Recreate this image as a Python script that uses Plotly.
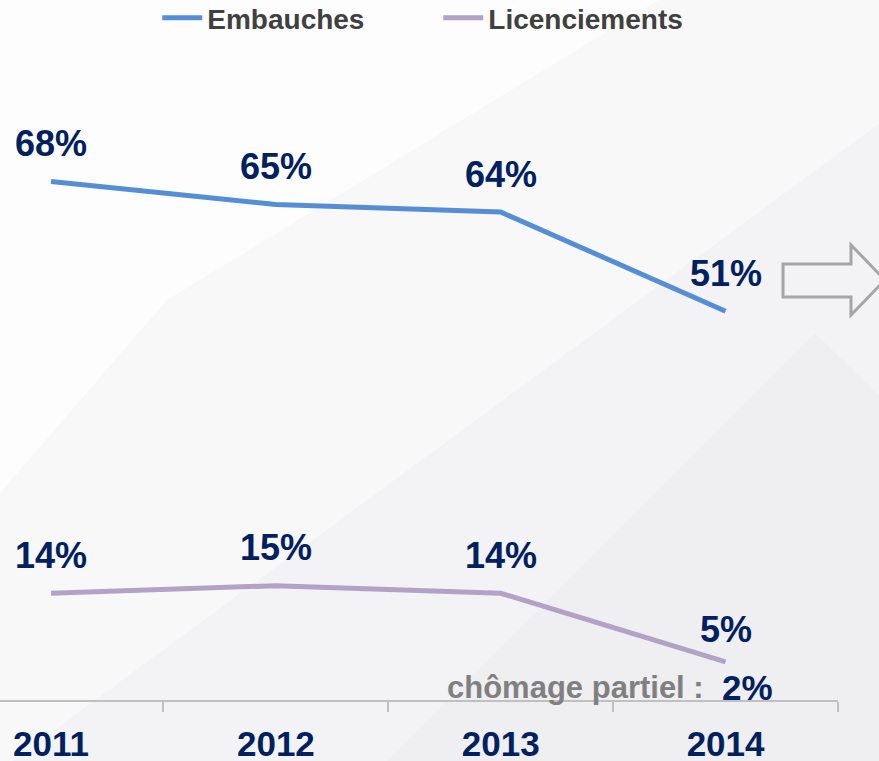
import plotly.graph_objects as go

# Data
years = ['2011', '2012', '2013', '2014']
embauches = [68, 65, 64, 51]
licenciements = [14, 15, 14, 5]
chomage_partiel = 2

NAVY = '#002060'
FONT = 'Liberation Sans, Arial, sans-serif'

# plot area in pixels: x 0..838, y 55..700
PL, PR, PT, PB = 0, 838, 55, 700


def pp(x, y):
    # pixel -> paper coords
    return (x - PL) / (PR - PL), (PB - y) / (PB - PT)


def path(points):
    s = ''
    for i, (x, y) in enumerate(points):
        a, b = pp(x, y)
        s += ('M' if i == 0 else 'L') + f'{a:.4f},{b:.4f} '
    return s + 'Z'


fig = go.Figure()
fig.add_trace(go.Scatter(x=years, y=embauches, name='Embauches', mode='lines',
                         line=dict(color='#558ED5', width=5)))
fig.add_trace(go.Scatter(x=years, y=licenciements, name='Licenciements', mode='lines',
                         line=dict(color='#B3A2C7', width=5)))

# value labels (x given as category index, since '2011' would be read as an index)
labels = []
for k, series in enumerate((embauches, licenciements)):
    for i, v in enumerate(series):
        shift = 32 if (k == 1 and i == len(years) - 1) else 38
        labels.append(dict(x=i, y=v, text=f'<b>{v}%</b>', showarrow=False, yshift=shift,
                           font=dict(family=FONT, size=36, color=NAVY)))

last = len(years) - 1
labels.append(dict(x=last, y=chomage_partiel, text='<b>chômage partiel :</b>', showarrow=False,
                   xanchor='right', xshift=-20, yshift=-3,
                   font=dict(family=FONT, size=31, color='#808080')))
labels.append(dict(x=last, y=chomage_partiel, text=f'<b>{chomage_partiel}%</b>', showarrow=False,
                   xshift=22, yshift=-3,
                   font=dict(family=FONT, size=35, color=NAVY)))

# background
bg = dict(type='path', xref='paper', yref='paper', layer='below', line_width=0)
shapes = [
    dict(bg, fillcolor='#f8f8f9', path=path([(-5, -5), (884, -5), (884, 120), (0, 770)])),
    dict(bg, fillcolor='#fdfdfd', path=path([(-5, -5), (667, -5), (167, 300), (0, 493)])),
    dict(bg, fillcolor='#efeff1', path=path([(815, 333), (884, 400), (884, 766), (382, 766)])),
    # outline arrow
    dict(type='path', xref='paper', yref='paper', line=dict(color='#a6a6a6', width=3),
         fillcolor='rgba(0,0,0,0)',
         path=path([(783, 264), (851, 264), (851, 245), (885, 280), (851, 315), (851, 297), (783, 297)])),
]

fig.update_layout(
    width=879, height=761,
    margin=dict(l=PL, r=879 - PR, t=PT, b=761 - PB, autoexpand=False),
    paper_bgcolor='#f3f3f5', plot_bgcolor='rgba(0,0,0,0)',
    shapes=shapes,
    annotations=labels,
    showlegend=True,
    legend=dict(orientation='h', x=0.523, xanchor='center', y=pp(0, 18)[1], yanchor='middle',
                font=dict(family=FONT, size=28, color='#404040', weight='bold'),
                bgcolor='rgba(0,0,0,0)', itemwidth=40, entrywidth=226),
    xaxis=dict(type='category', range=[-0.227, 3.5], showgrid=False, zeroline=False,
               showline=True, linecolor='#c0c0c0', linewidth=2,
               ticks='outside', tickson='boundaries', ticklen=10, tickcolor='#c0c0c0', tickwidth=2,
               tickfont=dict(family=FONT, size=35, color=NAVY, weight='bold'),
               ticklabelstandoff=12),
    yaxis=dict(range=[0, 84.6], visible=False, showgrid=False, zeroline=False),
)

fig.write_html("out.html", config={'displayModeBar': False},
               post_script="document.body.style.margin='0';")
